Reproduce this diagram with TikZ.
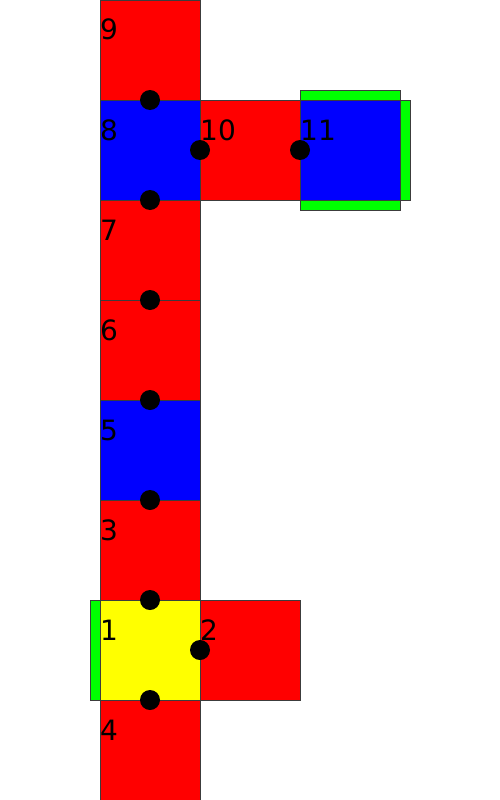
\documentclass[tikz,border=0pt]{standalone}
\usepackage{fontspec}
\setmainfont{DejaVu Sans}
\definecolor{cred}{RGB}{255,0,0}
\definecolor{cblue}{RGB}{0,0,255}
\definecolor{cgreen}{RGB}{0,255,0}
\definecolor{cyellow}{RGB}{255,255,0}
\definecolor{cedge}{RGB}{60,60,60}
\begin{document}
\begin{tikzpicture}[x=1pt,y=-1pt,
  sq/.style={draw=cedge, line width=0.6pt, minimum size=100pt, inner sep=0pt, outer sep=0pt},
  hbar/.style={draw=cedge, line width=0.6pt, fill=cgreen, minimum width=100pt, minimum height=10pt, inner sep=0pt, outer sep=0pt},
  vbar/.style={draw=cedge, line width=0.6pt, fill=cgreen, minimum width=10pt, minimum height=100pt, inner sep=0pt, outer sep=0pt},
  dot/.style={circle, fill=black, minimum size=20pt, inner sep=0pt},
  lab/.style={anchor=base west, inner sep=0pt, font=\fontsize{28}{30}\selectfont}]
\useasboundingbox (0,0) rectangle (500,800);
% green bars
\node[hbar] (b11t) at (350,95) {};
\node[hbar] (b11b) at (350,205) {};
\node[vbar] (b11r) at (405,150) {};
\node[vbar] (b1l) at (95,650) {};
% squares
\node[sq, fill=cred] (s9) at (150,50) {};
\node[sq, fill=cblue] (s8) at (150,150) {};
\node[sq, fill=cred] (s7) at (150,250) {};
\node[sq, fill=cred] (s6) at (150,350) {};
\node[sq, fill=cblue] (s5) at (150,450) {};
\node[sq, fill=cred] (s3) at (150,550) {};
\node[sq, fill=cyellow] (s1) at (150,650) {};
\node[sq, fill=cred] (s4) at (150,750) {};
\node[sq, fill=cred] (s10) at (250,150) {};
\node[sq, fill=cblue] (s11) at (350,150) {};
\node[sq, fill=cred] (s2) at (250,650) {};
% dots
\node[dot] (d98) at (s8.north) {};
\node[dot] (d87) at (s8.south) {};
\node[dot] (d810) at (s8.east) {};
\node[dot] (d1011) at (s10.east) {};
\node[dot] (d76) at (s7.south) {};
\node[dot] (d65) at (s6.south) {};
\node[dot] (d53) at (s5.south) {};
\node[dot] (d31) at (s3.south) {};
\node[dot] (d12) at (s1.east) {};
\node[dot] (d14) at (s1.south) {};
% labels
\node[lab] (l9) at (100,40) {9};
\node[lab] (l8) at (100,140) {8};
\node[lab] (l10) at (200,140) {10};
\node[lab] (l11) at (300,140) {11};
\node[lab] (l7) at (100,240) {7};
\node[lab] (l6) at (100,340) {6};
\node[lab] (l5) at (100,440) {5};
\node[lab] (l3) at (100,540) {3};
\node[lab] (l1) at (100,640) {1};
\node[lab] (l2) at (200,640) {2};
\node[lab] (l4) at (100,740) {4};
\end{tikzpicture}
\end{document}
